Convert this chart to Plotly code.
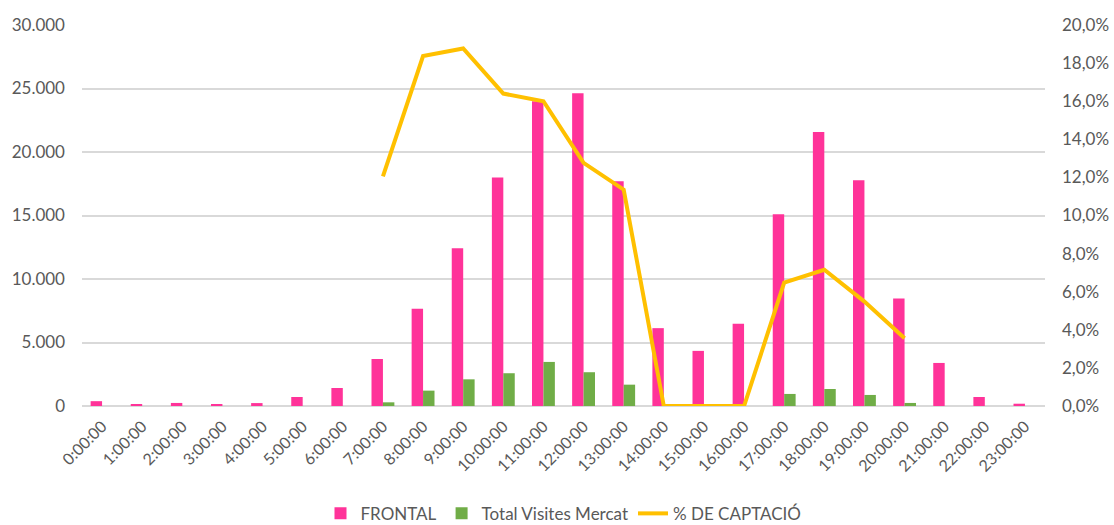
import plotly.graph_objects as go

hours = [f"{h}:00:00" for h in range(24)]
frontal = [380, 150, 240, 150, 230, 710, 1420, 3700, 7650, 12430, 18000, 24000,
           24630, 17690, 6130, 4340, 6470, 15090, 21580, 17770, 8460, 3390, 710, 180]
visites = [0, 0, 0, 0, 0, 0, 0, 290, 1210, 2100, 2580, 3470,
           2660, 1680, 0, 0, 0, 950, 1340, 870, 240, 0, 0, 0]
captacio = [None, None, None, None, None, None, None, 0.1205, 0.1837, 0.1877, 0.164, 0.160,
            0.1276, 0.1136, 0.0, 0.0, 0.0, 0.0648, 0.0715, 0.0548, 0.0356, None, None, None]

font_fam = "Lato, 'Open Sans', 'Liberation Sans', sans-serif"
txt = "#595959"
grid = "#D9D9D9"

fig = go.Figure()
fig.add_trace(go.Bar(x=hours, y=frontal, name="FRONTAL", marker_color="#FF3399",
                     marker_line_width=0))
fig.add_trace(go.Bar(x=hours, y=visites, name="Total Visites Mercat", marker_color="#70AD47",
                     marker_line_width=0))
fig.add_trace(go.Scatter(x=hours, y=captacio, name="% DE CAPTACIÓ", yaxis="y2",
                         mode="lines", line=dict(color="#FFC000", width=4),
                         connectgaps=False))

fig.update_layout(
    width=1114, height=525,
    margin=dict(l=82, r=69, t=25, b=119, autoexpand=False),
    paper_bgcolor="white", plot_bgcolor="white",
    separators=",.",
    barmode="group", bargap=0.43, bargroupgap=0,
    font=dict(family=font_fam, size=17, color=txt),
    xaxis=dict(type="category", tickangle=-45, showgrid=False, showline=False,
               ticks="", tickfont=dict(size=16, color=txt), zeroline=False,
               automargin=False, ticklabelstandoff=7),
    yaxis=dict(range=[0, 30000], dtick=5000, tickformat=",d", showgrid=True,
               gridcolor=grid, gridwidth=1.5, zeroline=True, zerolinecolor=grid,
               zerolinewidth=1.5, showline=False, ticks="", ticklabelstandoff=16,
               tickfont=dict(size=17, color=txt), automargin=False),
    yaxis2=dict(range=[0, 0.2], dtick=0.02, tickformat=".1%", overlaying="y",
                side="right", showgrid=False, zeroline=False, showline=False, ticks="",
                ticklabelstandoff=16, tickfont=dict(size=17, color=txt), automargin=False),
    legend=dict(orientation="h", x=0.5, xanchor="center", y=-0.283, yanchor="middle",
                font=dict(size=17, color=txt), traceorder="normal"),
    showlegend=True,
)

fig.write_html("out.html", config={"displayModeBar": False},
               post_script="document.body.style.margin='0';")
